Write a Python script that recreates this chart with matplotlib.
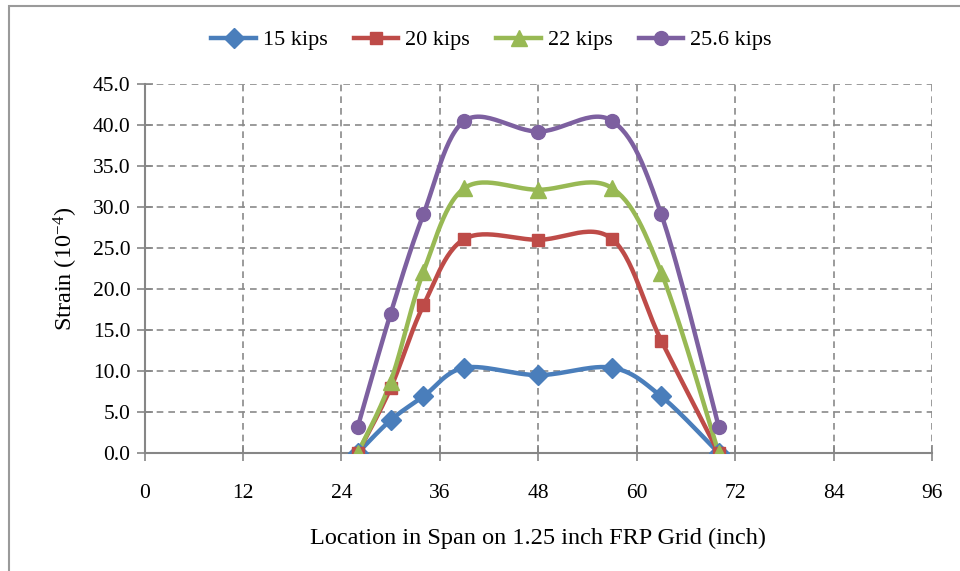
import numpy as np
import matplotlib
matplotlib.use("Agg")
import matplotlib.pyplot as plt
from matplotlib.patches import Rectangle
from matplotlib.ticker import MultipleLocator, FormatStrFormatter

plt.rcParams['font.family'] = ['Liberation Serif', 'DejaVu Serif']
plt.rcParams['mathtext.fontset'] = 'custom'
plt.rcParams['mathtext.rm'] = 'Liberation Serif'
plt.rcParams['mathtext.it'] = 'Liberation Serif:italic'

# Gauge locations along the span (inch)
location = [26, 30, 34, 39, 48, 57, 63, 70]

# Strain readings (x 10^-4) for each load level
series_names = ["15 kips", "20 kips", "22 kips", "25.6 kips"]
strain_15 = [0.0, 4.0, 6.9, 10.4, 9.5, 10.4, 6.9, 0.0]
strain_20 = [0.0, 7.9, 18.0, 26.1, 26.0, 26.1, 13.7, 0.0]
strain_22 = [0.0, 8.7, 22.1, 32.3, 32.1, 32.3, 22.0, 0.0]
strain_256 = [3.2, 17.0, 29.1, 40.5, 39.2, 40.5, 29.1, 3.2]

colors = ["#4A7EBB", "#BE4B48", "#98B954", "#7D60A0"]
markers = ["D", "s", "^", "o"]
msizes = [10, 9, 12, 10]


def smooth(x, y, n=30):
    """Catmull-Rom style Bezier smoothing through every point."""
    p = np.column_stack([x, y]).astype(float)
    out = [p[0]]
    t = np.linspace(0, 1, n)[1:]
    for i in range(len(p) - 1):
        p0 = p[i - 1] if i > 0 else p[i]
        p1, p2 = p[i], p[i + 1]
        p3 = p[i + 2] if i + 2 < len(p) else p[i + 1]
        c1 = p1 + (p2 - p0) / 6.0
        c2 = p2 - (p3 - p1) / 6.0
        seg = ((1 - t) ** 3)[:, None] * p1 + (3 * (1 - t) ** 2 * t)[:, None] * c1 \
            + (3 * (1 - t) * t ** 2)[:, None] * c2 + (t ** 3)[:, None] * p2
        out.extend(seg)
    out = np.array(out)
    return out[:, 0], out[:, 1]


fig = plt.figure(figsize=(9.6, 5.71), dpi=100)
ax = fig.add_axes([144.5 / 960, 1 - 453 / 571, (932 - 144.5) / 960, (453 - 84) / 571])

# outer chart frame
fig.patches.append(Rectangle((9 / 960, -0.1), 1.2, 1 - 6 / 571 + 0.1, transform=fig.transFigure,
                             fill=False, edgecolor="#9a9a9a", linewidth=1.5, zorder=0))

all_series = [strain_15, strain_20, strain_22, strain_256]
for name, vals, c, m, ms in zip(series_names, all_series, colors, markers, msizes):
    sx, sy = smooth(location, vals)
    ax.plot(sx, sy, color=c, linewidth=3.2, solid_capstyle="round", zorder=3)
    ax.plot(location, vals, linestyle="none", marker=m, color=c, markersize=ms, zorder=4)
    ax.plot([], [], color=c, linewidth=3.2, marker=m, markersize=ms, label=name)

ax.set_xlim(0, 96)
ax.set_ylim(0, 45)
ax.xaxis.set_major_locator(MultipleLocator(12))
ax.yaxis.set_major_locator(MultipleLocator(5))
ax.yaxis.set_major_formatter(FormatStrFormatter("%.1f"))

ax.grid(True, color="#8a8a8a", linestyle=(0, (4, 3)), linewidth=1.2)
ax.set_axisbelow(True)
for s in ["top", "right"]:
    ax.spines[s].set_visible(False)
for s in ["left", "bottom"]:
    ax.spines[s].set_color("#868686")
    ax.spines[s].set_linewidth(1.5)
ax.tick_params(direction="inout", length=12, width=1.2, color="#868686",
               labelsize=15.5, pad=4)
ax.tick_params(axis="x", pad=16)

ax.set_xlabel("Location in Span on 1.25 inch FRP Grid (inch)", fontsize=17.5, labelpad=18)
ax.set_ylabel(r"Strain (10$^{-4}$)", fontsize=17.5, labelpad=9)

leg = fig.legend(loc="center", bbox_to_anchor=(0.512, 1 - 40 / 571), ncol=4, frameon=False,
                 fontsize=16, handlelength=2.0, columnspacing=1.2, handletextpad=0.3)

fig.savefig("out.png", dpi=100)
